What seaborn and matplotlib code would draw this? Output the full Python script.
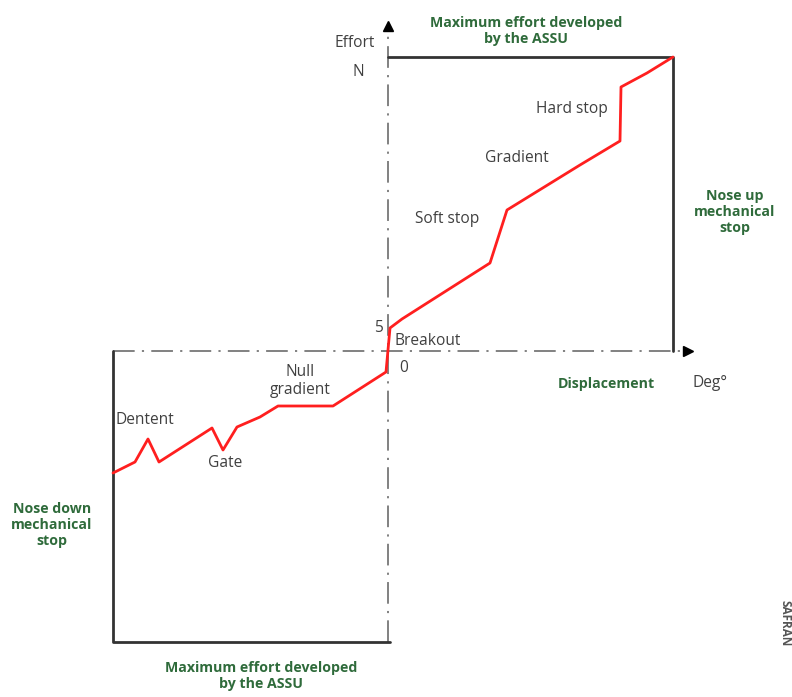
import matplotlib
matplotlib.use("Agg")
import pandas as pd
import seaborn as sns
import matplotlib.pyplot as plt

# stick force law (x: displacement, y: effort, origin at axes crossing)
displacement = [-275, -253, -240, -229, -176, -165, -151, -128, -110, -55, -2,
                -2, 2, 14, 102, 119, 192, 232, 233, 259, 285]
effort = [-122, -111, -88, -111, -77, -99, -76, -66, -55, -55, -21,
          -21, 23, 32, 88, 141, 186, 210, 264, 278, 294]

curve = pd.DataFrame({"Displacement": displacement, "Effort": effort})

x_max, x_min = 285, -275
y_max, y_min = 294, -291

green = "#2f6b3b"
grey = "#404040"

sns.set_style("white")
plt.rcParams['font.family'] = ['Open Sans', 'DejaVu Sans']

fig = plt.figure(figsize=(7.92, 6.97), dpi=100)
ax = fig.add_axes([0, 0, 1, 1])

# dash-dot axes
dashdot = (0, (12, 4, 1.2, 4))
ax.plot([x_min, 292], [0, 0], color="#777777", lw=1.3, linestyle=dashdot)
ax.plot([0, 0], [y_min, 322], color="#777777", lw=1.3, linestyle=dashdot)
ax.plot([300], [0], marker=">", color="black", markersize=7)
ax.plot([0], [325], marker="^", color="black", markersize=7)

# mechanical stop boxes
ax.plot([0, x_max, x_max], [y_max, y_max, 0], color="#333333", lw=2)
ax.plot([x_min, x_min, 2], [0, y_min, y_min], color="#333333", lw=2)

sns.lineplot(data=curve, x="Displacement", y="Effort", sort=False,
             color="#ff1f1f", lw=2, ax=ax)
ax.set_xlim(-388, 404)
ax.set_ylim(-346, 351)
ax.axis("off")

fs = 11.2
ax.text(-33, 308, "Effort", color=grey, fontsize=fs, ha="center", va="center")
ax.text(-30, 279, "N", color=grey, fontsize=fs, ha="center", va="center")
ax.text(-10, 23, "5", color=grey, fontsize=fs, ha="center", va="center")
ax.text(16, -17, "0", color=grey, fontsize=fs, ha="center", va="center")
ax.text(40, 10, "Breakout", color=grey, fontsize=fs, ha="center", va="center")
ax.text(322, -32, "Deg°", color=grey, fontsize=fs, ha="center", va="center")
ax.text(-243, -69, "Dentent", color=grey, fontsize=fs, ha="center", va="center")
ax.text(-163, -112, "Gate", color=grey, fontsize=fs, ha="center", va="center")
ax.text(-88, -30, "Null\ngradient", color=grey, fontsize=fs, ha="center",
        va="center", linespacing=1.1)
ax.text(59, 132, "Soft stop", color=grey, fontsize=fs, ha="center", va="center")
ax.text(129, 193, "Gradient", color=grey, fontsize=fs, ha="center", va="center")
ax.text(184, 242, "Hard stop", color=grey, fontsize=fs, ha="center", va="center")

fb = 10.2
ax.text(218, -33, "Displacement", color=green, fontsize=fb, weight="bold",
        ha="center", va="center")
ax.text(138, 320, "Maximum effort developed\nby the ASSU", color=green,
        fontsize=fb, weight="bold", ha="center", va="center", linespacing=1.2)
ax.text(-127, -325, "Maximum effort developed\nby the ASSU", color=green,
        fontsize=fb, weight="bold", ha="center", va="center", linespacing=1.2)
ax.text(347, 139, "Nose up\nmechanical\nstop", color=green, fontsize=fb,
        weight="bold", ha="center", va="center", linespacing=1.2)
ax.text(-336, -174, "Nose down\nmechanical\nstop", color=green, fontsize=fb,
        weight="bold", ha="center", va="center", linespacing=1.2)
ax.text(397, -272, "SAFRAN", color="#555555", fontsize=8.5, weight="bold",
        rotation=270, ha="center", va="center")

fig.savefig("out.png", dpi=100)
